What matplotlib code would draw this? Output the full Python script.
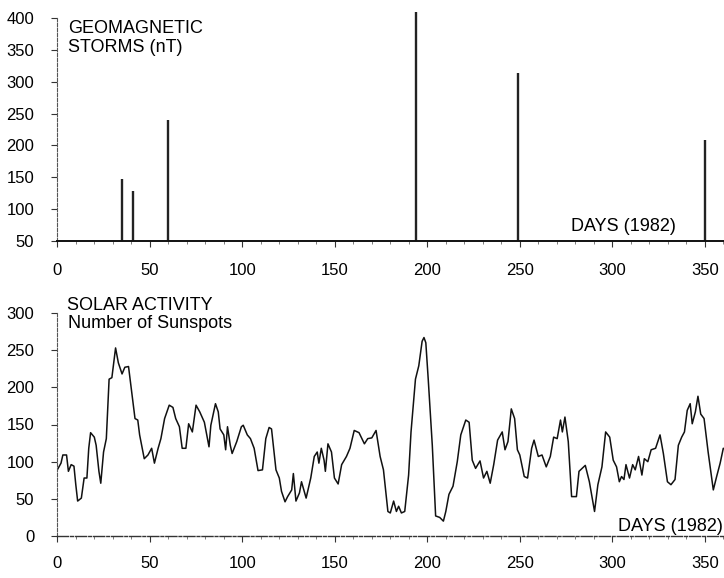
import matplotlib
matplotlib.use("Agg")
import matplotlib.pyplot as plt
from matplotlib.ticker import MultipleLocator

plt.rcParams['font.family'] = ['Liberation Sans', 'DejaVu Sans']

# ---- data ----
storm_days = [35, 41, 60, 194, 249, 350]
storm_nT = [148, 129, 240, 410, 313, 209]

sun_days = [0, 2, 3, 5, 6, 7.5, 9, 10, 11, 13, 14.5, 16, 17, 18, 20, 21, 22.5, 23.5, 25, 26.5,
            28, 29.5, 31.5, 33, 35, 36.5, 38.5, 40, 42, 43.5, 44.5, 47, 49, 51, 52.5, 54.5,
            56, 58, 60.5, 62.5, 64, 66, 67.5, 69.5, 71, 73, 75, 77, 79.5, 82, 83, 85.5, 87,
            88, 90, 91, 92, 93.5, 94.5, 97, 99.5,
            100.5, 102.7, 104.4, 106.4, 108.5, 110.9, 112.7, 114.5, 115.8, 118.2, 120, 121.2,
            123.1, 124.5, 126.7, 127.6, 129, 130.9, 132, 134.5, 137, 138.9, 140.5, 141.4,
            142.7, 144.2, 144.9, 146.3, 148.2, 149.8, 151.8, 153.7, 156.3, 158.2, 160.5,
            163.1, 166, 167.8, 170, 172.3, 174.5, 176.3, 178.7, 180, 181.8, 183.3, 184.5,
            186, 187.8, 189.9, 191.2, 193.6, 195.4, 197.2, 198.2, 199.2, 200.5, 202.7, 204.5,
            206.7, 208.7, 210, 211.7, 213.9, 216.2, 218.1, 220.8, 222.6,
            224.3, 226.1, 228.5, 230.4, 232.2, 234, 235.9, 238, 240.5, 242, 243.6, 245.4,
            247.2, 248.7, 250, 252.4, 254.2, 256.4, 257.7, 260, 262, 264.3, 266.5, 268.3,
            270.2, 272, 273, 274.4, 276.2, 278, 280.6, 282, 285.4, 287.6, 290.4, 292.2,
            294.4, 296.4, 298.6, 300.5, 302.3, 303.8, 305, 306.3, 307.4, 309.3, 311, 312.4,
            314.2, 316, 317.3, 319.2, 321, 323.4, 325.8, 327.6, 329.8, 331.7, 333.9, 335.7,
            337.5, 339, 340.5, 342.1, 343.2, 344.9, 346.3, 347.8, 349.6, 351.8, 354.6, 356.4,
            358.3, 360, 361.4]
sunspots = [89, 98, 109, 109, 87, 96, 94, 69, 47, 51, 78, 78, 118, 139, 133, 122, 87, 71, 113, 131,
            211, 213, 253, 233, 218, 227, 228, 198, 158, 156, 136, 104, 109, 118, 98, 118,
            131, 158, 176, 173, 158, 147, 118, 118, 151, 140, 176, 167, 153, 120, 149, 178, 167,
            144, 136, 116, 147, 122, 111, 127, 147,
            149, 136, 131, 118, 88, 89, 131, 146, 144, 89, 78, 60,
            46, 53, 62, 84, 47, 58, 73, 51, 78, 107, 113, 98,
            118, 102, 87, 124, 113, 78, 70, 96, 107, 118, 142,
            139, 124, 131, 132, 142, 107, 89, 33, 31, 47, 33, 40,
            31, 33, 82, 140, 211, 229, 262, 267, 260, 211, 122, 27,
            25, 20, 33, 56, 67, 100, 136, 156, 153,
            102, 91, 101, 78, 87, 71, 96, 129, 140, 116, 127, 171,
            158, 116, 109, 80, 78, 118, 129, 107, 109, 93, 107, 133,
            131, 156, 140, 160, 127, 53, 53, 87, 95, 73, 33, 69,
            93, 140, 133, 102, 93, 73, 80, 76, 96, 78, 96, 89,
            107, 82, 104, 100, 116, 118, 136, 111, 73, 69, 76, 122,
            133, 140, 169, 178, 151, 167, 188, 164, 158, 113, 62, 80,
            98, 118, 116]

x_ticks = [0, 50, 100, 150, 200, 250, 300, 350]
storm_yticks = [50, 100, 150, 200, 250, 300, 350, 400]
sun_yticks = [0, 50, 100, 150, 200, 250, 300]

W, H = 724, 578
fig = plt.figure(figsize=(W / 100, H / 100), dpi=100)
fig.patch.set_facecolor('white')

x0 = 57.3
xmax = (W - x0) / 1.85

ax1 = fig.add_axes([x0 / W, (H - 241) / H, (W - x0) / W, (241 - 8.4) / H])
ax2 = fig.add_axes([x0 / W, (H - 536) / H, (W - x0) / W, (536 - 313) / H])

ax1.vlines(storm_days, 50, storm_nT, colors='#222222', linewidth=1.7)
ax1.set_ylim(50, 415)
ax2.plot(sun_days, sunspots, color='#111111', linewidth=1.1)
ax2.set_ylim(0, 300)

for ax, yt, pad in ((ax1, storm_yticks, 11.5), (ax2, sun_yticks, 10.5)):
    ax.set_xlim(0, xmax)
    ax.set_xticks(x_ticks)
    ax.set_yticks(yt)
    ax.xaxis.set_minor_locator(MultipleLocator(10))
    ax.spines['top'].set_visible(False)
    ax.spines['right'].set_visible(False)
    ax.spines['left'].set_bounds(yt[0], yt[-1])
    ax.spines['left'].set_linestyle((0, (3, 1.5)))
    ax.spines['left'].set_color('#555555')
    ax.spines['left'].set_linewidth(0.8)
    ax.tick_params(axis='x', which='major', direction='out', length=4, width=0.8,
                   pad=pad, labelsize=12, color='#333333')
    ax.tick_params(axis='x', which='minor', direction='out', length=2, width=0.6,
                   color='#666666')
    ax.tick_params(axis='y', which='major', direction='out', length=4.5, width=0.8,
                   pad=12, labelsize=12, color='#333333')
    ax.set_facecolor('none')

ax1.spines['bottom'].set_linewidth(1.4)
ax1.spines['bottom'].set_color('#111111')
ax2.spines['bottom'].set_linewidth(1.0)
ax2.spines['bottom'].set_color('#333333')
ax2.spines['bottom'].set_linestyle((0, (8, 1.5, 2, 1.5)))

fs = 13
fig.text(68 / W, 1 - 33 / H, 'GEOMAGNETIC', fontsize=fs, va='baseline', ha='left')
fig.text(68 / W, 1 - 52 / H, 'STORMS (nT)', fontsize=fs, va='baseline', ha='left')
fig.text(571 / W, 1 - 231 / H, 'DAYS (1982)', fontsize=fs, va='baseline', ha='left')
fig.text(67 / W, 1 - 310 / H, 'SOLAR ACTIVITY', fontsize=fs, va='baseline', ha='left')
fig.text(68 / W, 1 - 328 / H, 'Number of Sunspots', fontsize=fs, va='baseline', ha='left')
fig.text(618 / W, 1 - 531 / H, 'DAYS (1982)', fontsize=fs, va='baseline', ha='left')

fig.savefig('out.png', dpi=100)
